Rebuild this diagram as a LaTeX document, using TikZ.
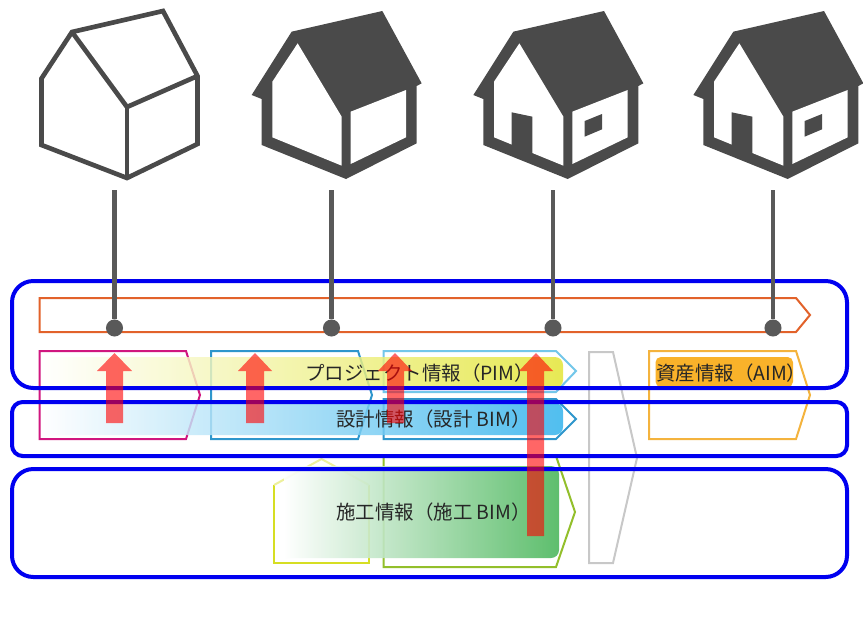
\documentclass[tikz,border=0pt]{standalone}
\usepackage{fontspec}
\setmainfont{Noto Sans CJK JP}
\definecolor{hdark}{HTML}{4A4A4A}
\definecolor{stemc}{HTML}{595959}
\definecolor{bluebox}{HTML}{0000F0}
\definecolor{cpink}{HTML}{D0167F}
\definecolor{cblue}{HTML}{2E96CC}
\definecolor{clight}{HTML}{73C7EA}
\definecolor{cgreen}{HTML}{93BF2B}
\definecolor{cyg}{HTML}{D6DE23}
\definecolor{cgrey}{HTML}{C8C8C8}
\definecolor{camber}{HTML}{F4B33D}
\definecolor{corange}{HTML}{E2622A}
\definecolor{barY}{HTML}{E2E530}
\definecolor{barB}{HTML}{2BB0EC}
\definecolor{barG}{HTML}{4DB85E}
\definecolor{barGm}{HTML}{B4D7A0}
\definecolor{barA}{HTML}{F9B22A}
\definecolor{redar}{HTML}{FF0000}
\tikzset{
  px/.style={x=0.75pt,y=-0.75pt},
  zoomed/.style={x=0.25pt,y=-0.25pt},
  tag/.style={line width=1.5pt,line join=miter},
  gbar/.style={opacity=0.82},
  frame/.style={draw=bluebox,line width=3pt},
  stem/.style={draw=stemc,line width=3.4pt},
  dot/.style={circle,fill=stemc,inner sep=0pt,minimum size=12.8pt},
  lab/.style={anchor=west,inner sep=0pt,font=\fontsize{14.6pt}{16pt}\selectfont,text=black!85},
  uparrow/.style={fill=redar,opacity=0.6},
}
\newcommand{\solidhouse}{%
  \fill[hdark] (755,285)--(875,95)--(1147,33)--(1265,250)--(1250,258)--(1250,430)--(1038,537)--(785,435)--(785,297)--cycle;
  \fill[white] (893,130)--(817,245)--(817,412)--(1025,497)--(1025,350)--cycle;
  \fill[white] (1052,335)--(1218,270)--(1218,412)--(1052,492)--cycle;
}
\newcommand{\housedetails}{%
  \fill[hdark] (870,337)--(932,350)--(932,470)--(870,445)--cycle;
  \fill[hdark] (1089,363)--(1141,342)--(1141,388)--(1089,410)--cycle;
}
\begin{document}
\begin{tikzpicture}[px]
\useasboundingbox (0,0) rectangle (863,642);
\fill[white] (0,0) rectangle (863,642);
% houses
\draw[hdark,line width=3.5pt,line join=miter,fill=white]
  (41.5,145)--(41.5,78.5)--(72,32)--(163,11)--(197.5,76)--(197.5,144)--(127,178)--cycle;
\draw[hdark,line width=3.5pt,line join=miter] (72,32)--(127,107)--(197.5,76);
\draw[hdark,line width=3.5pt] (127,107)--(127,178);
\begin{scope}[zoomed]\solidhouse\end{scope}
\begin{scope}[shift={(221.7,0)},zoomed]\solidhouse\housedetails\end{scope}
\begin{scope}[shift={(441.7,0)},zoomed]\solidhouse\housedetails\end{scope}
% tags
\draw[tag,corange] (39.5,298)--(796,298)--(810,315)--(796,332)--(39.5,332)--cycle;
\draw[tag,cpink] (39.5,351)--(186,351)--(200,395)--(186,439)--(39.5,439)--cycle;
\draw[tag,cblue] (211,351)--(358,351)--(372,395)--(358,439)--(211,439)--cycle;
\draw[tag,clight] (383.5,351)--(556,351)--(576,371)--(556,392)--(383.5,392)--cycle;
\draw[tag,cblue] (383.5,399)--(556,399)--(576,419)--(556,439)--(383.5,439)--cycle;
\draw[tag,cgreen] (383.5,456)--(556,456)--(575,512)--(556,567)--(383.5,567)--cycle;
\draw[tag,cyg] (274,485)--(274,563)--(369,563)--(369,485);
\draw[tag,cyg!45!white] (274,485)--(321.5,459)--(369,485);
\draw[tag,cgrey] (589,352)--(613,352)--(637,458)--(613,563)--(589,563)--cycle;
\draw[tag,camber] (649,351)--(796,351)--(810,395)--(796,439)--(649,439)--cycle;
% gradient bars
\shade[gbar,left color=white,right color=barY] (41,357) [rounded corners=6pt] --(563,357)--(563,388) [sharp corners] --(41,388)--cycle;
\shade[gbar,left color=white,right color=barB] (41,403) [rounded corners=6pt] --(563,403)--(563,435) [sharp corners] --(41,435)--cycle;
\shade[opacity=0.9,left color=white,middle color=barGm,right color=barG] (284,466) [rounded corners=6pt] --(559,466)--(559,558) [sharp corners] --(284,558)--cycle;
\fill[barA,rounded corners=4pt] (655.5,357) rectangle (793,387);
% labels
\node[lab] (pim) at (305,373) {プロジェクト情報（PIM）};
\node[lab] (dbim) at (336,419) {設計情報（設計 BIM）};
\node[lab] (cbim) at (336,512) {施工情報（施工 BIM）};
\node[lab] (aim) at (656,373) {資産情報（AIM）};
% frames
\draw[frame,rounded corners=16pt] (12,281) rectangle (847,388);
\draw[frame,rounded corners=8pt] (12,402) rectangle (847,456);
\draw[frame,rounded corners=16pt] (12,469) rectangle (847,577);
% stems and dots
\foreach \i/\xx in {1/114.5,2/331.5,3/553,4/773}{
  \coordinate (t\i) at (\xx,190);
  \node[dot] (d\i) at (\xx,328) {};
  \draw[stem] (t\i)--(d\i);
}
% red arrows
\fill[uparrow] (114.5,353)--(132,371)--(123,371)--(123,423)--(106,423)--(106,371)--(97,371)--cycle;
\fill[uparrow] (255,353)--(272,371)--(264,371)--(264,423)--(246,423)--(246,371)--(238,371)--cycle;
\fill[uparrow] (395,353)--(412,371)--(404,371)--(404,423)--(387,423)--(387,371)--(378,371)--cycle;
\fill[uparrow] (536,353)--(553,371)--(544,371)--(544,536)--(527,536)--(527,371)--(519,371)--cycle;
\end{tikzpicture}
\end{document}
